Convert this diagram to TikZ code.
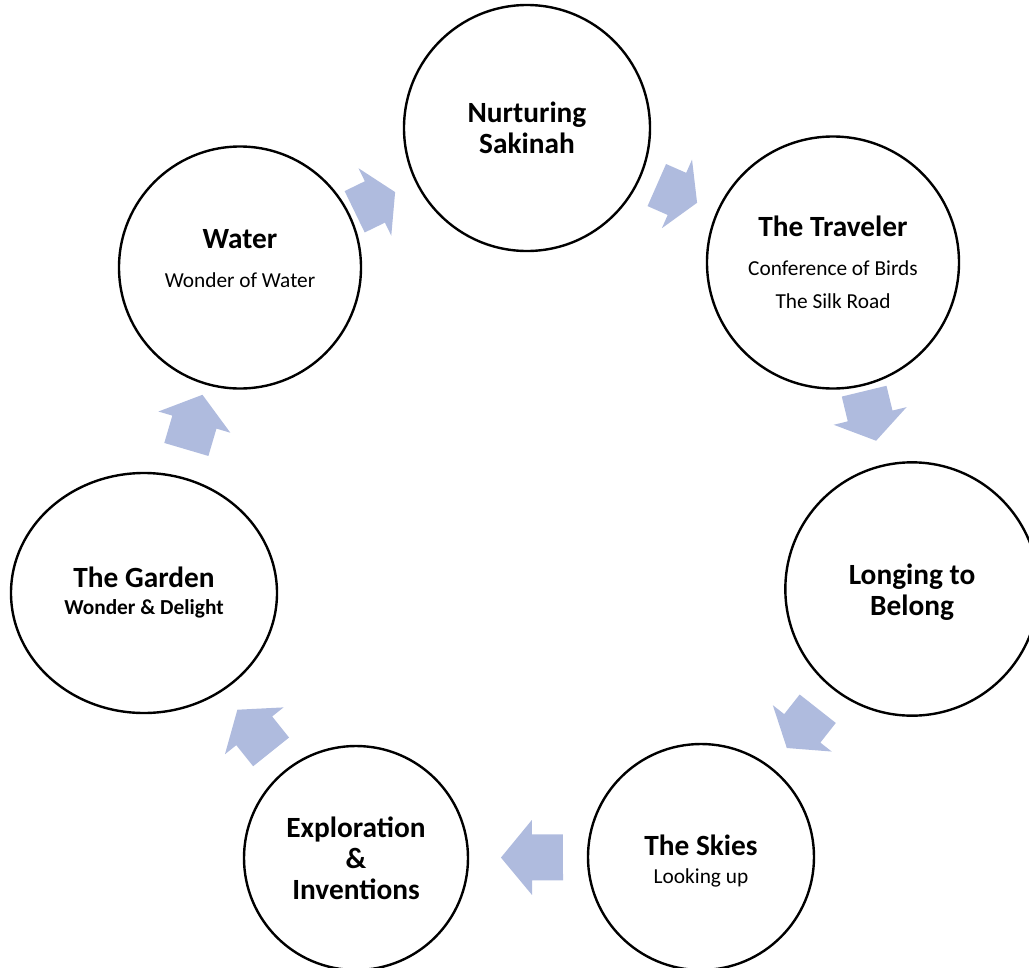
\documentclass[tikz,border=0pt]{standalone}
\usepackage{fontspec}
\setmainfont{Carlito}
\usepackage{tikz}
\usetikzlibrary{calc,shapes.geometric}

\definecolor{arrowblue}{RGB}{175,187,222}
\newcommand{\titlefont}{\fontsize{22}{23.25}\selectfont\bfseries}
\newcommand{\subfont}{\fontsize{16}{18}\selectfont\mdseries}

% Blockpfeil zwischen zwei Stationen: von, nach, Lage, Länge
\newcommand{\cyclearrow}[4]{%
  \pgfmathanglebetweenpoints{\pgfpointanchor{#1}{center}}{\pgfpointanchor{#2}{center}}%
  \let\arrowangle\pgfmathresult
  \begin{scope}[shift={($(#1)!#3!(#2)$)},rotate=\arrowangle]
    \fill[arrowblue] (-#4/2,-23) -- (0,-23) -- (0,-37.5) -- (#4/2,0)
      -- (0,37.5) -- (0,23) -- (-#4/2,23) -- cycle;
  \end{scope}}

\begin{document}
\begin{tikzpicture}[x=0.75pt,y=-0.75pt,
  stage/.style={circle,draw,line width=1.8pt,align=center,font=\titlefont,inner sep=0pt}]
  \useasboundingbox (0,0) rectangle (1029,968);
  % Stationen im Kreis
  \node[stage,minimum size=184.5pt] (nurture) at (527,128) {Nurturing\\Sakinah};
  \node[stage,minimum size=189pt] (traveler) at (833,262.5)
    {The Traveler\\[6pt]{\subfont Conference of Birds}\\[1.5pt]{\subfont The Silk Road}};
  \node[stage,minimum size=190pt] (longing) at (912,589)
    {\rule{0pt}{20pt}Longing to\\Belong};
  \node[stage,minimum size=169.5pt] (skies) at (701,857)
    {\rule{0pt}{22pt}The Skies\\[-2.25pt]{\subfont Looking up}};
  \node[stage,minimum size=168pt] (explore) at (356,858)
    {Exploration\\\&\\Inventions};
  \node[stage,ellipse,minimum width=199.5pt,minimum height=180pt] (garden) at (144,593)
    {The Garden\\[-3pt]{\subfont\bfseries Wonder \& Delight}};
  \node[stage,minimum size=181.5pt] (water) at (240,267.5)
    {Water\\[6pt]{\subfont Wonder of Water}\rule[-13.5pt]{0pt}{1pt}};
  % Pfeile im Uhrzeigersinn
  \cyclearrow{water}{nurture}{0.47}{45}
  \cyclearrow{nurture}{traveler}{0.49}{44}
  \cyclearrow{traveler}{longing}{0.47}{51}
  \cyclearrow{longing}{skies}{0.52}{50}
  \cyclearrow{skies}{explore}{0.49}{62}
  \cyclearrow{explore}{garden}{0.48}{54}
  \cyclearrow{garden}{water}{0.525}{57}
\end{tikzpicture}
\end{document}
